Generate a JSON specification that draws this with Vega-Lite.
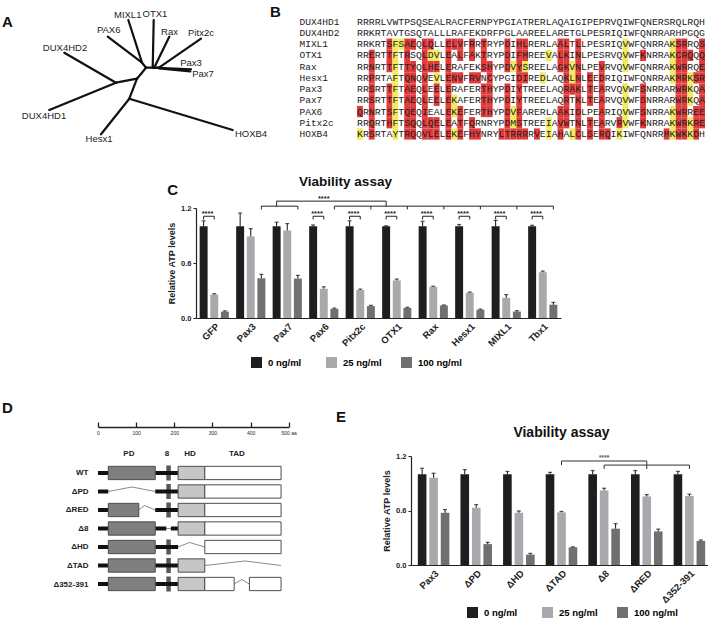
{
"$schema": "https://vega.github.io/schema/vega-lite/v6.json",
"background": "white",
"padding": {"left": 2, "top": 3, "right": 0, "bottom": 0},
"config": {
  "font": "Liberation Sans",
  "view": {"stroke": null},
  "axis": {"labelColor": "#222", "titleColor": "#222", "domainColor": "#222", "tickColor": "#222", "grid": false, "labelOverlap": false},
  "title": {"color": "#111"}
},
"datasets": {
  "tree": [
    {"x1":6.33,"y1":4.67,"x2":11.5,"y2":7.67},
    {"x1":4.83,"y1":10.4,"x2":11.5,"y2":7.67},
    {"x1":11.5,"y1":7.67,"x2":13.6,"y2":7.27},
    {"x1":13.6,"y1":7.27,"x2":12.83,"y2":9.27},
    {"x1":12.83,"y1":9.27,"x2":10.0,"y2":12.83},
    {"x1":12.83,"y1":9.27,"x2":23.17,"y2":12.4},
    {"x1":13.6,"y1":7.27,"x2":14.5,"y2":6.17},
    {"x1":10.67,"y1":3.07,"x2":14.1,"y2":5.67},
    {"x1":12.73,"y1":1.4,"x2":14.1,"y2":5.67},
    {"x1":14.1,"y1":5.67,"x2":14.5,"y2":6.17},
    {"x1":15.27,"y1":1.4,"x2":15.17,"y2":6.17},
    {"x1":16.83,"y1":3.07,"x2":15.4,"y2":6.0},
    {"x1":20.0,"y1":3.27,"x2":15.8,"y2":6.17},
    {"x1":19.0,"y1":6.33,"x2":15.17,"y2":6.17},
    {"x1":18.93,"y1":6.53,"x2":15.8,"y2":6.25},
    {"x1":14.5,"y1":6.17,"x2":15.8,"y2":6.17}
  ],
  "treelab": [
    {"name":"DUX4HD2","x":6.4,"y":4.2},{"name":"DUX4HD1","x":4.3,"y":11.0},{"name":"Hesx1","x":9.8,"y":13.27},
    {"name":"HOXB4","x":25.0,"y":12.75},{"name":"PAX6","x":10.77,"y":2.43},{"name":"MIXL1","x":12.67,"y":0.9},
    {"name":"OTX1","x":15.4,"y":0.83},{"name":"Rax","x":16.85,"y":2.57},{"name":"Pitx2c","x":20.0,"y":2.67},
    {"name":"Pax3","x":19.0,"y":5.67},{"name":"Pax7","x":20.2,"y":6.83}
  ],
  "seqs": [
    {"s":"DUX4HD1","seq":"RRRRLVWTPSQSEALRACFERNPYPGIATRERLAQAIGIPEPRVQIWFQNERSRQLRQH"},
    {"s":"DUX4HD2","seq":"RRKRTAVTGSQTALLLRAFEKDRFPGLAAREELARETGLPESRIQIWFQNRRARHPGQG"},
    {"s":"MIXL1","seq":"RRKRTSFSAEQLQLLELVFRRTRYPDIHLRERLAALTLLPESRIQVWFQNRRAKSRRQS"},
    {"s":"OTX1","seq":"RRERTTFTRSQLDVLEALFAKTRYPDIFMREEVALKINLPESRVQVWFKNRRAKCRQQQ"},
    {"s":"Rax","seq":"RRNRTTFTTYQLHELERAFEKSHYPDVYSREELAGKVNLPEVRVQVWFQNRRAKWRRQE"},
    {"s":"Hesx1","seq":"RRPRTAFTQNQVEVLENVFRVNCYPGIDIREDLAQKLNLEEDRIQIWFQNRRAKMRKSR"},
    {"s":"Pax3","seq":"RRSRTTFTAEQLEELERAFERTHYPDIYTREELAQRAKLTEARVQVWFSNRRARWRKQA"},
    {"s":"Pax7","seq":"RRSRTTFTAEQLEELEKAFERTHYPDIYTREELAQRTKLTEARVQVWFSNRRARWRKQA"},
    {"s":"PAX6","seq":"QRNRTSFTQEQIEALEKEFERTHYPDVFARERLAAKIDLPEARIQVWFSNRRAKWRREE"},
    {"s":"Pitx2c","seq":"RRQRTHFTSQQLQELEATFQRNRYPDMSTREEIAVWTNLTEARVRVWFKNRRAKWRKRE"},
    {"s":"HOXB4","seq":"KRSRTAYTRQQVLELEKEFHYNRYLTRRRRVEIAHALCLSERQIKIWFQNRRMKWKKDH"}
  ],
  "hl": [
    {"s":"MIXL1","p":6,"c":"r"},{"s":"MIXL1","p":9,"c":"r"},{"s":"MIXL1","p":10,"c":"r"},{"s":"MIXL1","p":12,"c":"r"},{"s":"MIXL1","p":13,"c":"r"},{"s":"MIXL1","p":16,"c":"r"},{"s":"MIXL1","p":17,"c":"r"},{"s":"MIXL1","p":18,"c":"r"},{"s":"MIXL1","p":20,"c":"r"},{"s":"MIXL1","p":22,"c":"r"},{"s":"MIXL1","p":26,"c":"r"},{"s":"MIXL1","p":28,"c":"r"},{"s":"MIXL1","p":29,"c":"r"},{"s":"MIXL1","p":35,"c":"r"},{"s":"MIXL1","p":36,"c":"r"},{"s":"MIXL1","p":38,"c":"r"},{"s":"MIXL1","p":55,"c":"r"},{"s":"MIXL1","p":56,"c":"r"},{"s":"MIXL1","p":59,"c":"r"},
    {"s":"MIXL1","p":7,"c":"y"},{"s":"MIXL1","p":8,"c":"y"},{"s":"MIXL1","p":46,"c":"y"},{"s":"MIXL1","p":54,"c":"y"},
    {"s":"OTX1","p":3,"c":"r"},{"s":"OTX1","p":6,"c":"r"},{"s":"OTX1","p":9,"c":"r"},{"s":"OTX1","p":12,"c":"r"},{"s":"OTX1","p":16,"c":"r"},{"s":"OTX1","p":18,"c":"r"},{"s":"OTX1","p":20,"c":"r"},{"s":"OTX1","p":22,"c":"r"},{"s":"OTX1","p":26,"c":"r"},{"s":"OTX1","p":28,"c":"r"},{"s":"OTX1","p":29,"c":"r"},{"s":"OTX1","p":35,"c":"r"},{"s":"OTX1","p":36,"c":"r"},{"s":"OTX1","p":38,"c":"r"},{"s":"OTX1","p":49,"c":"r"},{"s":"OTX1","p":55,"c":"r"},{"s":"OTX1","p":56,"c":"r"},{"s":"OTX1","p":57,"c":"r"},{"s":"OTX1","p":59,"c":"r"},
    {"s":"OTX1","p":7,"c":"y"},{"s":"OTX1","p":13,"c":"y"},{"s":"OTX1","p":14,"c":"y"},{"s":"OTX1","p":33,"c":"y"},{"s":"OTX1","p":46,"c":"y"},{"s":"OTX1","p":54,"c":"y"},
    {"s":"Rax","p":3,"c":"r"},{"s":"Rax","p":6,"c":"r"},{"s":"Rax","p":9,"c":"r"},{"s":"Rax","p":10,"c":"r"},{"s":"Rax","p":12,"c":"r"},{"s":"Rax","p":13,"c":"r"},{"s":"Rax","p":14,"c":"r"},{"s":"Rax","p":16,"c":"r"},{"s":"Rax","p":22,"c":"r"},{"s":"Rax","p":23,"c":"r"},{"s":"Rax","p":26,"c":"r"},{"s":"Rax","p":28,"c":"r"},{"s":"Rax","p":35,"c":"r"},{"s":"Rax","p":36,"c":"r"},{"s":"Rax","p":38,"c":"r"},{"s":"Rax","p":42,"c":"r"},{"s":"Rax","p":55,"c":"r"},{"s":"Rax","p":56,"c":"r"},{"s":"Rax","p":59,"c":"r"},
    {"s":"Rax","p":7,"c":"y"},{"s":"Rax","p":27,"c":"y"},{"s":"Rax","p":29,"c":"y"},{"s":"Rax","p":37,"c":"y"},{"s":"Rax","p":46,"c":"y"},{"s":"Rax","p":54,"c":"y"},
    {"s":"Hesx1","p":3,"c":"r"},{"s":"Hesx1","p":9,"c":"r"},{"s":"Hesx1","p":10,"c":"r"},{"s":"Hesx1","p":12,"c":"r"},{"s":"Hesx1","p":16,"c":"r"},{"s":"Hesx1","p":17,"c":"r"},{"s":"Hesx1","p":18,"c":"r"},{"s":"Hesx1","p":20,"c":"r"},{"s":"Hesx1","p":21,"c":"r"},{"s":"Hesx1","p":23,"c":"r"},{"s":"Hesx1","p":28,"c":"r"},{"s":"Hesx1","p":29,"c":"r"},{"s":"Hesx1","p":36,"c":"r"},{"s":"Hesx1","p":38,"c":"r"},{"s":"Hesx1","p":40,"c":"r"},{"s":"Hesx1","p":42,"c":"r"},{"s":"Hesx1","p":55,"c":"r"},{"s":"Hesx1","p":56,"c":"r"},{"s":"Hesx1","p":58,"c":"r"},{"s":"Hesx1","p":59,"c":"r"},
    {"s":"Hesx1","p":7,"c":"y"},{"s":"Hesx1","p":14,"c":"y"},{"s":"Hesx1","p":32,"c":"y"},{"s":"Hesx1","p":37,"c":"y"},{"s":"Hesx1","p":54,"c":"y"},{"s":"Hesx1","p":57,"c":"y"},
    {"s":"Pax3","p":3,"c":"r"},{"s":"Pax3","p":6,"c":"r"},{"s":"Pax3","p":9,"c":"r"},{"s":"Pax3","p":10,"c":"r"},{"s":"Pax3","p":12,"c":"r"},{"s":"Pax3","p":14,"c":"r"},{"s":"Pax3","p":16,"c":"r"},{"s":"Pax3","p":22,"c":"r"},{"s":"Pax3","p":23,"c":"r"},{"s":"Pax3","p":26,"c":"r"},{"s":"Pax3","p":28,"c":"r"},{"s":"Pax3","p":36,"c":"r"},{"s":"Pax3","p":37,"c":"r"},{"s":"Pax3","p":38,"c":"r"},{"s":"Pax3","p":40,"c":"r"},{"s":"Pax3","p":42,"c":"r"},{"s":"Pax3","p":49,"c":"r"},{"s":"Pax3","p":55,"c":"r"},{"s":"Pax3","p":56,"c":"r"},{"s":"Pax3","p":59,"c":"r"},
    {"s":"Pax3","p":7,"c":"y"},{"s":"Pax3","p":46,"c":"y"},{"s":"Pax3","p":57,"c":"y"},
    {"s":"Pax7","p":3,"c":"r"},{"s":"Pax7","p":6,"c":"r"},{"s":"Pax7","p":9,"c":"r"},{"s":"Pax7","p":10,"c":"r"},{"s":"Pax7","p":12,"c":"r"},{"s":"Pax7","p":14,"c":"r"},{"s":"Pax7","p":16,"c":"r"},{"s":"Pax7","p":22,"c":"r"},{"s":"Pax7","p":23,"c":"r"},{"s":"Pax7","p":26,"c":"r"},{"s":"Pax7","p":28,"c":"r"},{"s":"Pax7","p":36,"c":"r"},{"s":"Pax7","p":38,"c":"r"},{"s":"Pax7","p":40,"c":"r"},{"s":"Pax7","p":42,"c":"r"},{"s":"Pax7","p":49,"c":"r"},{"s":"Pax7","p":55,"c":"r"},{"s":"Pax7","p":56,"c":"r"},{"s":"Pax7","p":59,"c":"r"},
    {"s":"Pax7","p":7,"c":"y"},{"s":"Pax7","p":17,"c":"y"},{"s":"Pax7","p":46,"c":"y"},{"s":"Pax7","p":57,"c":"y"},
    {"s":"PAX6","p":1,"c":"r"},{"s":"PAX6","p":3,"c":"r"},{"s":"PAX6","p":6,"c":"r"},{"s":"PAX6","p":9,"c":"r"},{"s":"PAX6","p":10,"c":"r"},{"s":"PAX6","p":12,"c":"r"},{"s":"PAX6","p":16,"c":"r"},{"s":"PAX6","p":18,"c":"r"},{"s":"PAX6","p":22,"c":"r"},{"s":"PAX6","p":23,"c":"r"},{"s":"PAX6","p":26,"c":"r"},{"s":"PAX6","p":28,"c":"r"},{"s":"PAX6","p":35,"c":"r"},{"s":"PAX6","p":36,"c":"r"},{"s":"PAX6","p":38,"c":"r"},{"s":"PAX6","p":42,"c":"r"},{"s":"PAX6","p":49,"c":"r"},{"s":"PAX6","p":55,"c":"r"},{"s":"PAX6","p":56,"c":"r"},{"s":"PAX6","p":58,"c":"r"},{"s":"PAX6","p":59,"c":"r"},
    {"s":"PAX6","p":7,"c":"y"},{"s":"PAX6","p":17,"c":"y"},{"s":"PAX6","p":27,"c":"y"},{"s":"PAX6","p":46,"c":"y"},{"s":"PAX6","p":54,"c":"y"},
    {"s":"Pitx2c","p":3,"c":"r"},{"s":"Pitx2c","p":6,"c":"r"},{"s":"Pitx2c","p":9,"c":"r"},{"s":"Pitx2c","p":10,"c":"r"},{"s":"Pitx2c","p":12,"c":"r"},{"s":"Pitx2c","p":13,"c":"r"},{"s":"Pitx2c","p":14,"c":"r"},{"s":"Pitx2c","p":16,"c":"r"},{"s":"Pitx2c","p":18,"c":"r"},{"s":"Pitx2c","p":20,"c":"r"},{"s":"Pitx2c","p":26,"c":"r"},{"s":"Pitx2c","p":28,"c":"r"},{"s":"Pitx2c","p":35,"c":"r"},{"s":"Pitx2c","p":36,"c":"r"},{"s":"Pitx2c","p":38,"c":"r"},{"s":"Pitx2c","p":40,"c":"r"},{"s":"Pitx2c","p":42,"c":"r"},{"s":"Pitx2c","p":45,"c":"r"},{"s":"Pitx2c","p":49,"c":"r"},{"s":"Pitx2c","p":55,"c":"r"},{"s":"Pitx2c","p":56,"c":"r"},{"s":"Pitx2c","p":58,"c":"r"},{"s":"Pitx2c","p":59,"c":"r"},
    {"s":"Pitx2c","p":7,"c":"y"},{"s":"Pitx2c","p":27,"c":"y"},{"s":"Pitx2c","p":33,"c":"y"},{"s":"Pitx2c","p":46,"c":"y"},{"s":"Pitx2c","p":54,"c":"y"},{"s":"Pitx2c","p":57,"c":"y"},
    {"s":"HOXB4","p":3,"c":"r"},{"s":"HOXB4","p":9,"c":"r"},{"s":"HOXB4","p":10,"c":"r"},{"s":"HOXB4","p":12,"c":"r"},{"s":"HOXB4","p":13,"c":"r"},{"s":"HOXB4","p":14,"c":"r"},{"s":"HOXB4","p":16,"c":"r"},{"s":"HOXB4","p":18,"c":"r"},{"s":"HOXB4","p":20,"c":"r"},{"s":"HOXB4","p":21,"c":"r"},{"s":"HOXB4","p":25,"c":"r"},{"s":"HOXB4","p":26,"c":"r"},{"s":"HOXB4","p":27,"c":"r"},{"s":"HOXB4","p":28,"c":"r"},{"s":"HOXB4","p":29,"c":"r"},{"s":"HOXB4","p":31,"c":"r"},{"s":"HOXB4","p":35,"c":"r"},{"s":"HOXB4","p":38,"c":"r"},{"s":"HOXB4","p":40,"c":"r"},{"s":"HOXB4","p":42,"c":"r"},{"s":"HOXB4","p":43,"c":"r"},{"s":"HOXB4","p":53,"c":"r"},{"s":"HOXB4","p":55,"c":"r"},{"s":"HOXB4","p":56,"c":"r"},{"s":"HOXB4","p":58,"c":"r"},
    {"s":"HOXB4","p":1,"c":"y"},{"s":"HOXB4","p":7,"c":"y"},{"s":"HOXB4","p":17,"c":"y"},{"s":"HOXB4","p":33,"c":"y"},{"s":"HOXB4","p":37,"c":"y"},{"s":"HOXB4","p":45,"c":"y"},{"s":"HOXB4","p":54,"c":"y"},{"s":"HOXB4","p":57,"c":"y"}
  ],
  "c": [
    {"g":"GFP","d":"0 ng/ml","v":1.0,"e":1.06},{"g":"GFP","d":"25 ng/ml","v":0.255,"e":0.265},{"g":"GFP","d":"100 ng/ml","v":0.07,"e":0.078},
    {"g":"Pax3","d":"0 ng/ml","v":1.0,"e":1.145},{"g":"Pax3","d":"25 ng/ml","v":0.89,"e":0.975},{"g":"Pax3","d":"100 ng/ml","v":0.435,"e":0.475},
    {"g":"Pax7","d":"0 ng/ml","v":1.0,"e":1.045},{"g":"Pax7","d":"25 ng/ml","v":0.955,"e":1.03},{"g":"Pax7","d":"100 ng/ml","v":0.43,"e":0.465},
    {"g":"Pax6","d":"0 ng/ml","v":1.0,"e":1.015},{"g":"Pax6","d":"25 ng/ml","v":0.32,"e":0.34},{"g":"Pax6","d":"100 ng/ml","v":0.1,"e":0.108},
    {"g":"Pitx2c","d":"0 ng/ml","v":1.0,"e":1.06},{"g":"Pitx2c","d":"25 ng/ml","v":0.305,"e":0.315},{"g":"Pitx2c","d":"100 ng/ml","v":0.13,"e":0.138},
    {"g":"OTX1","d":"0 ng/ml","v":1.0,"e":1.006},{"g":"OTX1","d":"25 ng/ml","v":0.41,"e":0.425},{"g":"OTX1","d":"100 ng/ml","v":0.11,"e":0.117},
    {"g":"Rax","d":"0 ng/ml","v":1.0,"e":1.055},{"g":"Rax","d":"25 ng/ml","v":0.34,"e":0.347},{"g":"Rax","d":"100 ng/ml","v":0.137,"e":0.142},
    {"g":"Hesx1","d":"0 ng/ml","v":1.0,"e":1.02},{"g":"Hesx1","d":"25 ng/ml","v":0.275,"e":0.283},{"g":"Hesx1","d":"100 ng/ml","v":0.09,"e":0.097},
    {"g":"MIXL1","d":"0 ng/ml","v":1.0,"e":1.065},{"g":"MIXL1","d":"25 ng/ml","v":0.22,"e":0.255},{"g":"MIXL1","d":"100 ng/ml","v":0.07,"e":0.08},
    {"g":"Tbx1","d":"0 ng/ml","v":1.0,"e":1.012},{"g":"Tbx1","d":"25 ng/ml","v":0.5,"e":0.512},{"g":"Tbx1","d":"100 ng/ml","v":0.145,"e":0.17}
  ],
  "cbr": [
    {"id":"sGFP","g":"GFP","d":"0 ng/ml","v":1.075,"o":1},{"id":"sGFP","g":"GFP","d":"0 ng/ml","v":1.11,"o":2},{"id":"sGFP","g":"GFP","d":"25 ng/ml","v":1.11,"o":3},{"id":"sGFP","g":"GFP","d":"25 ng/ml","v":1.075,"o":4},
    {"id":"sPax6","g":"Pax6","d":"0 ng/ml","v":1.075,"o":1},{"id":"sPax6","g":"Pax6","d":"0 ng/ml","v":1.11,"o":2},{"id":"sPax6","g":"Pax6","d":"25 ng/ml","v":1.11,"o":3},{"id":"sPax6","g":"Pax6","d":"25 ng/ml","v":1.075,"o":4},
    {"id":"sPitx2c","g":"Pitx2c","d":"0 ng/ml","v":1.075,"o":1},{"id":"sPitx2c","g":"Pitx2c","d":"0 ng/ml","v":1.11,"o":2},{"id":"sPitx2c","g":"Pitx2c","d":"25 ng/ml","v":1.11,"o":3},{"id":"sPitx2c","g":"Pitx2c","d":"25 ng/ml","v":1.075,"o":4},
    {"id":"sOTX1","g":"OTX1","d":"0 ng/ml","v":1.075,"o":1},{"id":"sOTX1","g":"OTX1","d":"0 ng/ml","v":1.11,"o":2},{"id":"sOTX1","g":"OTX1","d":"25 ng/ml","v":1.11,"o":3},{"id":"sOTX1","g":"OTX1","d":"25 ng/ml","v":1.075,"o":4},
    {"id":"sRax","g":"Rax","d":"0 ng/ml","v":1.075,"o":1},{"id":"sRax","g":"Rax","d":"0 ng/ml","v":1.11,"o":2},{"id":"sRax","g":"Rax","d":"25 ng/ml","v":1.11,"o":3},{"id":"sRax","g":"Rax","d":"25 ng/ml","v":1.075,"o":4},
    {"id":"sHesx1","g":"Hesx1","d":"0 ng/ml","v":1.075,"o":1},{"id":"sHesx1","g":"Hesx1","d":"0 ng/ml","v":1.11,"o":2},{"id":"sHesx1","g":"Hesx1","d":"25 ng/ml","v":1.11,"o":3},{"id":"sHesx1","g":"Hesx1","d":"25 ng/ml","v":1.075,"o":4},
    {"id":"sMIXL1","g":"MIXL1","d":"0 ng/ml","v":1.075,"o":1},{"id":"sMIXL1","g":"MIXL1","d":"0 ng/ml","v":1.11,"o":2},{"id":"sMIXL1","g":"MIXL1","d":"25 ng/ml","v":1.11,"o":3},{"id":"sMIXL1","g":"MIXL1","d":"25 ng/ml","v":1.075,"o":4},
    {"id":"sTbx1","g":"Tbx1","d":"0 ng/ml","v":1.075,"o":1},{"id":"sTbx1","g":"Tbx1","d":"0 ng/ml","v":1.11,"o":2},{"id":"sTbx1","g":"Tbx1","d":"25 ng/ml","v":1.11,"o":3},{"id":"sTbx1","g":"Tbx1","d":"25 ng/ml","v":1.075,"o":4},
    {"id":"b1","g":"Pax3","d":"100 ng/ml","v":1.185,"o":1},{"id":"b1","g":"Pax3","d":"100 ng/ml","v":1.22,"o":2},{"id":"b1","g":"Pax7","d":"100 ng/ml","v":1.22,"o":3},{"id":"b1","g":"Pax7","d":"100 ng/ml","v":1.185,"o":4},
    {"id":"b2","g":"Pax6","d":"100 ng/ml","v":1.185,"o":1},{"id":"b2","g":"Pax6","d":"100 ng/ml","v":1.22,"o":2},{"id":"b2","g":"Tbx1","d":"100 ng/ml","v":1.22,"o":3},{"id":"b2","g":"Tbx1","d":"100 ng/ml","v":1.185,"o":4},
    {"id":"t1","g":"Pitx2c","d":"100 ng/ml","v":1.22,"o":1},{"id":"t1","g":"Pitx2c","d":"100 ng/ml","v":1.185,"o":2},
    {"id":"t2","g":"OTX1","d":"100 ng/ml","v":1.22,"o":1},{"id":"t2","g":"OTX1","d":"100 ng/ml","v":1.185,"o":2},
    {"id":"t3","g":"Rax","d":"100 ng/ml","v":1.22,"o":1},{"id":"t3","g":"Rax","d":"100 ng/ml","v":1.185,"o":2},
    {"id":"t4","g":"Hesx1","d":"100 ng/ml","v":1.22,"o":1},{"id":"t4","g":"Hesx1","d":"100 ng/ml","v":1.185,"o":2},
    {"id":"t5","g":"MIXL1","d":"100 ng/ml","v":1.22,"o":1},{"id":"t5","g":"MIXL1","d":"100 ng/ml","v":1.185,"o":2},
    {"id":"top","g":"Pax7","d":"0 ng/ml","v":1.22,"o":1},{"id":"top","g":"Pax7","d":"0 ng/ml","v":1.275,"o":2},{"id":"top","g":"OTX1","d":"0 ng/ml","v":1.275,"o":3},{"id":"top","g":"OTX1","d":"0 ng/ml","v":1.22,"o":4}
  ],
  "cstar": [
    {"g":"GFP","d":"0 ng/ml","v":1.14,"t":"****"},{"g":"Pax6","d":"0 ng/ml","v":1.14,"t":"****"},{"g":"Pitx2c","d":"0 ng/ml","v":1.14,"t":"****"},{"g":"OTX1","d":"0 ng/ml","v":1.14,"t":"****"},
    {"g":"Rax","d":"0 ng/ml","v":1.14,"t":"****"},{"g":"Hesx1","d":"0 ng/ml","v":1.14,"t":"****"},{"g":"MIXL1","d":"0 ng/ml","v":1.14,"t":"****"},{"g":"Tbx1","d":"0 ng/ml","v":1.14,"t":"****"}
  ],
  "cstar2": [{"g":"Pax6","d":"25 ng/ml","v":1.3,"t":"****"}],
  "e": [
    {"g":"Pax3","d":"0 ng/ml","v":1.0,"e":1.065},{"g":"Pax3","d":"25 ng/ml","v":0.96,"e":1.01},{"g":"Pax3","d":"100 ng/ml","v":0.575,"e":0.61},
    {"g":"ΔPD","d":"0 ng/ml","v":1.0,"e":1.05},{"g":"ΔPD","d":"25 ng/ml","v":0.63,"e":0.665},{"g":"ΔPD","d":"100 ng/ml","v":0.23,"e":0.25},
    {"g":"ΔHD","d":"0 ng/ml","v":1.0,"e":1.03},{"g":"ΔHD","d":"25 ng/ml","v":0.575,"e":0.595},{"g":"ΔHD","d":"100 ng/ml","v":0.115,"e":0.128},
    {"g":"ΔTAD","d":"0 ng/ml","v":1.0,"e":1.02},{"g":"ΔTAD","d":"25 ng/ml","v":0.58,"e":0.59},{"g":"ΔTAD","d":"100 ng/ml","v":0.195,"e":0.2},
    {"g":"Δ8","d":"0 ng/ml","v":1.0,"e":1.04},{"g":"Δ8","d":"25 ng/ml","v":0.82,"e":0.845},{"g":"Δ8","d":"100 ng/ml","v":0.4,"e":0.455},
    {"g":"ΔRED","d":"0 ng/ml","v":1.0,"e":1.04},{"g":"ΔRED","d":"25 ng/ml","v":0.755,"e":0.775},{"g":"ΔRED","d":"100 ng/ml","v":0.37,"e":0.395},
    {"g":"Δ352-391","d":"0 ng/ml","v":1.0,"e":1.03},{"g":"Δ352-391","d":"25 ng/ml","v":0.76,"e":0.78},{"g":"Δ352-391","d":"100 ng/ml","v":0.265,"e":0.275}
  ],
  "ebr": [
    {"id":"top","g":"ΔTAD","d":"25 ng/ml","v":1.1,"o":1},{"id":"top","g":"ΔTAD","d":"25 ng/ml","v":1.145,"o":2},{"id":"top","g":"ΔRED","d":"25 ng/ml","v":1.145,"o":3},{"id":"top","g":"ΔRED","d":"25 ng/ml","v":1.1,"o":4},
    {"id":"low","g":"Δ8","d":"25 ng/ml","v":1.057,"o":1},{"id":"low","g":"Δ8","d":"25 ng/ml","v":1.1,"o":2},{"id":"low","g":"Δ352-391","d":"25 ng/ml","v":1.1,"o":3},{"id":"low","g":"Δ352-391","d":"25 ng/ml","v":1.057,"o":4},
    {"id":"tk","g":"ΔRED","d":"25 ng/ml","v":1.1,"o":1},{"id":"tk","g":"ΔRED","d":"25 ng/ml","v":1.057,"o":2}
  ],
  "estar": [{"g":"Δ8","d":"25 ng/ml","v":1.175,"t":"****"}],
  "dseg": [
    {"c":"WT","a":0,"b":27},{"c":"WT","a":150,"b":210},
    {"c":"ΔPD","a":0,"b":27},{"c":"ΔPD","a":150,"b":210},
    {"c":"ΔRED","a":0,"b":27},{"c":"ΔRED","a":150,"b":210},
    {"c":"Δ8","a":0,"b":27},{"c":"Δ8","a":150,"b":179},{"c":"Δ8","a":191,"b":210},
    {"c":"ΔHD","a":0,"b":27},{"c":"ΔHD","a":150,"b":210},
    {"c":"ΔTAD","a":0,"b":27},{"c":"ΔTAD","a":150,"b":210},
    {"c":"Δ352-391","a":0,"b":27},{"c":"Δ352-391","a":150,"b":210}
  ],
  "dbox": [
    {"c":"WT","a":27,"b":150,"t":"PD"},{"c":"WT","a":210,"b":280,"t":"HD"},{"c":"WT","a":280,"b":480,"t":"TAD"},
    {"c":"ΔPD","a":210,"b":280,"t":"HD"},{"c":"ΔPD","a":280,"b":480,"t":"TAD"},
    {"c":"ΔRED","a":27,"b":107,"t":"PD"},{"c":"ΔRED","a":210,"b":280,"t":"HD"},{"c":"ΔRED","a":280,"b":480,"t":"TAD"},
    {"c":"Δ8","a":27,"b":150,"t":"PD"},{"c":"Δ8","a":210,"b":280,"t":"HD"},{"c":"Δ8","a":280,"b":480,"t":"TAD"},
    {"c":"ΔHD","a":27,"b":150,"t":"PD"},{"c":"ΔHD","a":280,"b":480,"t":"TAD"},
    {"c":"ΔTAD","a":27,"b":150,"t":"PD"},{"c":"ΔTAD","a":210,"b":280,"t":"HD"},
    {"c":"Δ352-391","a":27,"b":150,"t":"PD"},{"c":"Δ352-391","a":210,"b":280,"t":"HD"},{"c":"Δ352-391","a":280,"b":357,"t":"TAD"},{"c":"Δ352-391","a":397,"b":480,"t":"TAD"}
  ],
  "dcross": [
    {"c":"WT","a":185},{"c":"ΔPD","a":185},{"c":"ΔRED","a":185},{"c":"ΔHD","a":185},{"c":"ΔTAD","a":185},{"c":"Δ352-391","a":185}
  ],
  "ddel": [
    {"c":"ΔPD","id":"pd","a":27,"k":"base","o":1},{"c":"ΔPD","id":"pd","a":89,"k":"peak","o":2},{"c":"ΔPD","id":"pd","a":150,"k":"base","o":3},
    {"c":"ΔRED","id":"red","a":107,"k":"base","o":1},{"c":"ΔRED","id":"red","a":122,"k":"peak","o":2},{"c":"ΔRED","id":"red","a":150,"k":"base","o":3},
    {"c":"Δ8","id":"oct","a":179,"k":"base","o":1},{"c":"Δ8","id":"oct","a":191,"k":"base","o":2},
    {"c":"ΔHD","id":"hd","a":210,"k":"base","o":1},{"c":"ΔHD","id":"hd","a":240,"k":"peak","o":2},{"c":"ΔHD","id":"hd","a":280,"k":"base","o":3},
    {"c":"ΔTAD","id":"tad","a":280,"k":"base","o":1},{"c":"ΔTAD","id":"tad","a":385,"k":"peak","o":2},{"c":"ΔTAD","id":"tad","a":480,"k":"base","o":3},
    {"c":"Δ352-391","id":"del","a":357,"k":"base","o":1},{"c":"Δ352-391","id":"del","a":377,"k":"peak","o":2},{"c":"Δ352-391","id":"del","a":397,"k":"base","o":3}
  ],
  "dhdr": [
    {"a":81,"t":"PD"},{"a":181,"t":"8"},{"a":241,"t":"HD"},{"a":364,"t":"TAD"}
  ]
},
"spacing": 32,
"resolve": {"scale": {"color": "independent", "xOffset": "independent", "yOffset": "independent"}, "legend": {"color": "independent"}},
"vconcat": [
  {
    "spacing": 31,
    "resolve": {"scale": {"color": "independent", "xOffset": "independent", "yOffset": "independent"}, "legend": {"color": "independent"}},
    "vconcat": [
      {
        "spacing": 2,
        "resolve": {"scale": {"color": "independent", "xOffset": "independent", "yOffset": "independent"}, "legend": {"color": "independent"}},
        "hconcat": [
          {
            "width": 1, "height": 1,
            "title": {"text": "A", "orient": "bottom", "anchor": "start", "frame": "group", "fontSize": 15, "fontWeight": "bold", "offset": 0},
            "data": {"values": [{"t": ""}]},
            "mark": "text",
            "encoding": {"text": {"field": "t"}}
          },
          {
            "width": 244, "height": 133,
            "layer": [
              {
                "data": {"name": "tree"},
                "mark": {"type": "rule", "strokeWidth": 2.2, "color": "#111", "strokeCap": "round"},
                "encoding": {
                  "x": {"field": "x1", "type": "quantitative", "scale": {"domain": [1.4, 25.8], "nice": false, "zero": false}, "axis": null},
                  "y": {"field": "y1", "type": "quantitative", "scale": {"domain": [0.3, 13.6], "nice": false, "zero": false, "reverse": true}, "axis": null},
                  "x2": {"field": "x2"}, "y2": {"field": "y2"}
                }
              },
              {
                "data": {"name": "treelab"},
                "mark": {"type": "text", "fontSize": 9.5, "color": "#222", "baseline": "middle", "align": "center"},
                "encoding": {
                  "x": {"field": "x", "type": "quantitative"},
                  "y": {"field": "y", "type": "quantitative"},
                  "text": {"field": "name"}
                }
              }
            ]
          },
          {
            "width": 348, "height": 130.6,
            "title": {"text": "B", "anchor": "start", "fontSize": 15, "fontWeight": "bold", "offset": -11, "dx": -29},
            "layer": [
              {
                "data": {"name": "hl"},
                "mark": {"type": "rect"},
                "encoding": {
                  "x": {"field": "p", "type": "ordinal", "scale": {"domain": [1,2,3,4,5,6,7,8,9,10,11,12,13,14,15,16,17,18,19,20,21,22,23,24,25,26,27,28,29,30,31,32,33,34,35,36,37,38,39,40,41,42,43,44,45,46,47,48,49,50,51,52,53,54,55,56,57,58,59], "paddingInner": 0, "paddingOuter": 0}, "axis": null},
                  "y": {"field": "s", "type": "nominal", "scale": {"domain": ["DUX4HD1","DUX4HD2","MIXL1","OTX1","Rax","Hesx1","Pax3","Pax7","PAX6","Pitx2c","HOXB4"], "paddingInner": 0, "paddingOuter": 0.316, "align": 1},
                        "axis": {"title": null, "domain": false, "ticks": false, "labelFont": "Liberation Mono", "labelFontSize": 9.5, "labelAlign": "left", "labelPadding": 58, "labelColor": "#222"}},
                  "color": {"field": "c", "type": "nominal", "scale": {"domain": ["r", "y"], "range": ["#e23a3b", "#f1ea5a"]}, "legend": null}
                }
              },
              {
                "data": {"name": "seqs"},
                "mark": {"type": "text", "font": "Liberation Mono", "fontSize": 9.83, "align": "left", "baseline": "middle", "color": "#222"},
                "encoding": {
                  "x": {"datum": 1, "type": "ordinal", "bandPosition": 0},
                  "y": {"field": "s", "type": "nominal"},
                  "text": {"field": "seq"}
                }
              }
            ]
          }
        ]
      },
      {
        "spacing": -11,
        "resolve": {"scale": {"color": "independent", "xOffset": "independent", "yOffset": "independent"}, "legend": {"color": "independent"}},
        "hconcat": [
          {
            "width": 176, "height": 1,
            "title": {"text": "C", "orient": "top", "anchor": "end", "frame": "group", "fontSize": 15, "fontWeight": "bold", "offset": 5},
            "data": {"values": [{"t": ""}]},
            "mark": "text",
            "encoding": {"text": {"field": "t"}}
          },
          {
            "width": 365, "height": 110,
            "title": {"text": "Viability assay", "fontSize": 13.5, "fontWeight": "bold", "anchor": "middle", "frame": "group", "dx": -33, "offset": 6},
            "layer": [
              {
                "data": {"name": "c"},
                "mark": {"type": "bar"},
                "encoding": {
                  "x": {"field": "g", "type": "nominal", "sort": null, "scale": {"domain": ["GFP","Pax3","Pax7","Pax6","Pitx2c","OTX1","Rax","Hesx1","MIXL1","Tbx1"], "paddingInner": 0.2, "paddingOuter": 0.1},
                        "axis": {"title": null, "labelAngle": -45, "labelFontSize": 9.5, "labelFontWeight": "bold", "ticks": false, "labelPadding": 3, "domainWidth": 1.2}},
                  "xOffset": {"field": "d", "type": "nominal", "scale": {"domain": ["0 ng/ml","25 ng/ml","100 ng/ml"], "paddingInner": 0.25, "paddingOuter": 0}},
                  "y": {"field": "v", "type": "quantitative", "scale": {"domain": [0, 1.2], "nice": false},
                        "axis": {"title": "Relative ATP levels", "titleFontSize": 9, "titleFontWeight": "bold", "values": [0, 0.3, 0.6, 0.9, 1.2], "format": ".1f", "labelFontSize": 7.5, "labelFontWeight": "bold", "tickSize": 3, "titlePadding": 4, "domainWidth": 1.2}},
                  "color": {"field": "d", "type": "nominal", "scale": {"domain": ["0 ng/ml","25 ng/ml","100 ng/ml"], "range": ["#1e1e1e","#a7a9ac","#707070"]},
                            "legend": {"title": null, "orient": "none", "legendX": 55, "legendY": 149, "direction": "horizontal", "symbolType": "square", "symbolSize": 121, "symbolStrokeWidth": 0, "labelFontSize": 9.5, "labelFontWeight": "bold", "labelOffset": 6, "columnPadding": 14, "gridAlign": "all", "padding": 0}}
                }
              },
              {
                "data": {"name": "c"},
                "mark": {"type": "rule", "color": "#111", "strokeWidth": 1},
                "encoding": {
                  "x": {"field": "g", "type": "nominal"},
                  "xOffset": {"field": "d", "type": "nominal"},
                  "y": {"field": "v", "type": "quantitative"},
                  "y2": {"field": "e"}
                }
              },
              {
                "data": {"name": "c"},
                "mark": {"type": "tick", "color": "#111", "thickness": 1.2, "size": 4, "orient": "horizontal"},
                "encoding": {
                  "x": {"field": "g", "type": "nominal"},
                  "xOffset": {"field": "d", "type": "nominal"},
                  "y": {"field": "e", "type": "quantitative"}
                }
              },
              {
                "data": {"name": "cbr"},
                "mark": {"type": "line", "color": "#222", "strokeWidth": 1},
                "encoding": {
                  "x": {"field": "g", "type": "nominal"},
                  "xOffset": {"field": "d", "type": "nominal"},
                  "y": {"field": "v", "type": "quantitative"},
                  "detail": {"field": "id"},
                  "order": {"field": "o", "type": "quantitative"}
                }
              },
              {
                "data": {"name": "cstar"},
                "mark": {"type": "text", "fontSize": 7.5, "fontWeight": "bold", "align": "left", "dx": -2, "baseline": "middle", "color": "#222"},
                "encoding": {
                  "x": {"field": "g", "type": "nominal"},
                  "xOffset": {"field": "d", "type": "nominal"},
                  "y": {"field": "v", "type": "quantitative"},
                  "text": {"field": "t"}
                }
              },
              {
                "data": {"name": "cstar2"},
                "mark": {"type": "text", "fontSize": 7.5, "fontWeight": "bold", "align": "center", "baseline": "middle", "color": "#222"},
                "encoding": {
                  "x": {"field": "g", "type": "nominal"},
                  "xOffset": {"field": "d", "type": "nominal"},
                  "y": {"field": "v", "type": "quantitative"},
                  "text": {"field": "t"}
                }
              }
            ]
          }
        ]
      }
    ]
  },
  {
    "spacing": 39,
    "resolve": {"scale": {"color": "independent", "xOffset": "independent", "yOffset": "independent"}, "legend": {"color": "independent"}},
    "hconcat": [
      {
        "width": 1, "height": 1,
        "title": {"text": "D", "orient": "top", "anchor": "start", "frame": "group", "fontSize": 15, "fontWeight": "bold", "offset": 35},
        "data": {"values": [{"t": ""}]},
        "mark": "text",
        "encoding": {"text": {"field": "t"}}
      },
      {
        "width": 190.7, "height": 131,
        "layer": [
          {
            "data": {"name": "ddel"},
            "mark": {"type": "line", "color": "#8a8a8a", "strokeWidth": 1},
            "encoding": {
              "x": {"field": "a", "type": "quantitative", "scale": {"domain": [0, 500], "nice": false},
                    "axis": {"orient": "top", "offset": 29, "title": null, "tickCount": 6, "labelExpr": "datum.value == 500 ? '500 aa' : datum.label", "labelFontSize": 5, "labelOverlap": false, "labelBound": false, "labelFlush": false, "tickSize": 5, "labelPadding": -13, "domainWidth": 1.3, "tickWidth": 1.3}},
              "y": {"field": "c", "type": "nominal", "scale": {"type": "point", "domain": ["WT", "ΔPD", "ΔRED", "Δ8", "ΔHD", "ΔTAD", "Δ352-391"], "padding": 0.54, "align": 0.85},
                    "axis": {"title": null, "domain": false, "ticks": false, "labelFontSize": 8, "labelFontWeight": "bold", "labelPadding": 10}},
              "yOffset": {"field": "k", "type": "nominal", "scale": {"type": "point", "domain": ["base", "peak"], "range": [0, -4.5], "padding": 0}},
              "detail": {"field": "id"},
              "order": {"field": "o", "type": "quantitative"}
            }
          },
          {
            "data": {"name": "dseg"},
            "mark": {"type": "rule", "color": "#111", "strokeWidth": 4},
            "encoding": {
              "x": {"field": "a", "type": "quantitative"},
              "x2": {"field": "b"},
              "y": {"field": "c", "type": "nominal"}
            }
          },
          {
            "data": {"name": "dcross"},
            "mark": {"type": "tick", "color": "#111", "orient": "vertical", "thickness": 4.5, "size": 15},
            "encoding": {
              "x": {"field": "a", "type": "quantitative"},
              "y": {"field": "c", "type": "nominal"}
            }
          },
          {
            "data": {"name": "dbox"},
            "mark": {"type": "bar", "height": 13.3, "stroke": "#4d4d4d", "strokeWidth": 1},
            "encoding": {
              "x": {"field": "a", "type": "quantitative"},
              "x2": {"field": "b"},
              "y": {"field": "c", "type": "nominal"},
              "color": {"field": "t", "type": "nominal", "scale": {"domain": ["PD", "HD", "TAD"], "range": ["#7f7f7f", "#c6c6c6", "#ffffff"]}, "legend": null}
            }
          },
          {
            "data": {"name": "dhdr"},
            "mark": {"type": "text", "fontSize": 8, "fontWeight": "bold", "color": "#222", "baseline": "middle", "dy": -19},
            "encoding": {
              "x": {"field": "a", "type": "quantitative"},
              "y": {"datum": "WT", "type": "nominal"},
              "text": {"field": "t"}
            }
          }
        ]
      },
      {
        "spacing": 35,
        "resolve": {"scale": {"color": "independent", "xOffset": "independent", "yOffset": "independent"}, "legend": {"color": "independent"}},
        "hconcat": [
          {
            "width": 1, "height": 1,
            "title": {"text": "E", "orient": "top", "anchor": "start", "frame": "group", "fontSize": 15, "fontWeight": "bold", "offset": 26},
            "data": {"values": [{"t": ""}]},
            "mark": "text",
            "encoding": {"text": {"field": "t"}}
          },
          {
            "width": 301, "height": 109,
            "title": {"text": "Viability assay", "fontSize": 14, "fontWeight": "bold", "anchor": "middle", "frame": "group", "offset": 12},
            "layer": [
              {
                "data": {"name": "e"},
                "mark": {"type": "bar"},
                "encoding": {
                  "x": {"field": "g", "type": "nominal", "sort": null, "scale": {"domain": ["Pax3","ΔPD","ΔHD","ΔTAD","Δ8","ΔRED","Δ352-391"], "paddingInner": 0.26, "paddingOuter": 0.16},
                        "axis": {"title": null, "labelAngle": -45, "labelFontSize": 9.5, "labelFontWeight": "bold", "ticks": false, "labelPadding": 3, "domainWidth": 1.2}},
                  "xOffset": {"field": "d", "type": "nominal", "scale": {"domain": ["0 ng/ml","25 ng/ml","100 ng/ml"], "paddingInner": 0.25, "paddingOuter": 0}},
                  "y": {"field": "v", "type": "quantitative", "scale": {"domain": [0, 1.2], "nice": false},
                        "axis": {"title": "Relative ATP levels", "titleFontSize": 9, "titleFontWeight": "bold", "values": [0, 0.3, 0.6, 0.9, 1.2], "format": ".1f", "labelFontSize": 7.5, "labelFontWeight": "bold", "tickSize": 3, "titlePadding": 4, "domainWidth": 1.2}},
                  "color": {"field": "d", "type": "nominal", "scale": {"domain": ["0 ng/ml","25 ng/ml","100 ng/ml"], "range": ["#1e1e1e","#a7a9ac","#707070"]},
                            "legend": {"title": null, "orient": "none", "legendX": 56, "legendY": 151, "direction": "horizontal", "symbolType": "square", "symbolSize": 121, "symbolStrokeWidth": 0, "labelFontSize": 9.5, "labelFontWeight": "bold", "labelOffset": 6, "columnPadding": 14, "gridAlign": "all", "padding": 0}}
                }
              },
              {
                "data": {"name": "e"},
                "mark": {"type": "rule", "color": "#111", "strokeWidth": 1},
                "encoding": {
                  "x": {"field": "g", "type": "nominal"},
                  "xOffset": {"field": "d", "type": "nominal"},
                  "y": {"field": "v", "type": "quantitative"},
                  "y2": {"field": "e"}
                }
              },
              {
                "data": {"name": "e"},
                "mark": {"type": "tick", "color": "#111", "thickness": 1.2, "size": 4, "orient": "horizontal"},
                "encoding": {
                  "x": {"field": "g", "type": "nominal"},
                  "xOffset": {"field": "d", "type": "nominal"},
                  "y": {"field": "e", "type": "quantitative"}
                }
              },
              {
                "data": {"name": "ebr"},
                "mark": {"type": "line", "color": "#333", "strokeWidth": 1},
                "encoding": {
                  "x": {"field": "g", "type": "nominal"},
                  "xOffset": {"field": "d", "type": "nominal"},
                  "y": {"field": "v", "type": "quantitative"},
                  "detail": {"field": "id"},
                  "order": {"field": "o", "type": "quantitative"}
                }
              },
              {
                "data": {"name": "estar"},
                "mark": {"type": "text", "fontSize": 6.5, "fontWeight": "bold", "align": "center", "baseline": "middle", "color": "#555"},
                "encoding": {
                  "x": {"field": "g", "type": "nominal"},
                  "xOffset": {"field": "d", "type": "nominal"},
                  "y": {"field": "v", "type": "quantitative"},
                  "text": {"field": "t"}
                }
              }
            ]
          }
        ]
      }
    ]
  }
]
}
